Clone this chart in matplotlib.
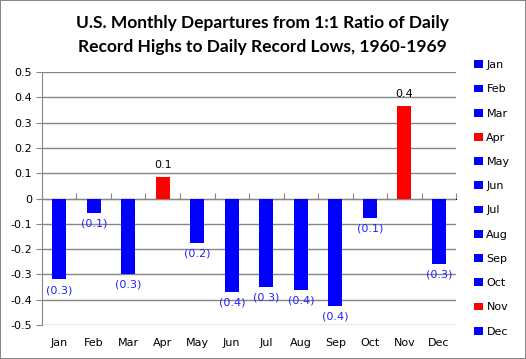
import matplotlib.pyplot as plt
import numpy as np

# data
months = ["Jan", "Feb", "Mar", "Apr", "May", "Jun",
          "Jul", "Aug", "Sep", "Oct", "Nov", "Dec"]
departures = [-0.32, -0.057, -0.30, 0.084, -0.175, -0.369,
              -0.349, -0.361, -0.424, -0.077, 0.365, -0.258]
bar_labels = ["(0.3)", "(0.1)", "(0.3)", "0.1", "(0.2)", "(0.4)",
              "(0.3)", "(0.4)", "(0.4)", "(0.1)", "0.4", "(0.3)"]
yticks = [0.5, 0.4, 0.3, 0.2, 0.1, 0, -0.1, -0.2, -0.3, -0.4, -0.5]
ytick_labels = ["0.5", "0.4", "0.3", "0.2", "0.1", "0",
                "-0.1", "-0.2", "-0.3", "-0.4", "-0.5"]

grid_col = "#868686"
colors = ["#FF0000" if v > 0 else "#0000FF" for v in departures]

fig = plt.figure(figsize=(5.26, 3.59), dpi=100, edgecolor=grid_col, linewidth=1.2)
ax = fig.add_axes([0.0798, 0.0947, 0.7872, 0.7047])

x = np.arange(len(months))
bars = ax.bar(x, departures, width=0.41, color=colors, zorder=3)

for i, v in enumerate(departures):
    if v > 0:
        ax.annotate(bar_labels[i], (x[i], v), xytext=(0, 5), textcoords="offset points",
                    ha="center", va="bottom", fontsize=8, color="black")
    else:
        ax.annotate(bar_labels[i], (x[i], v), xytext=(0, -4), textcoords="offset points",
                    ha="center", va="top", fontsize=8, color="#2222FF")

ax.set_xlim(-0.5, len(months) - 0.5)
ax.set_ylim(-0.5, 0.5)
ax.set_yticks(yticks)
ax.set_yticklabels(ytick_labels, fontsize=8)
ax.yaxis.grid(True, color=grid_col, linewidth=1.0, zorder=0)
ax.tick_params(axis="y", length=4, color=grid_col, pad=3)

ax.set_xticks(x)
ax.set_xticklabels(months, fontsize=8)
ax.tick_params(axis="x", length=0, pad=9)

for s in ["top", "right", "bottom"]:
    ax.spines[s].set_visible(False)
ax.spines["left"].set_color(grid_col)

# category axis sits on the zero line
sec = ax.secondary_xaxis(0.5)
sec.set_xticks(np.arange(-0.5, len(months), 1.0))
sec.set_xticklabels([])
sec.tick_params(length=4, color=grid_col, direction="out")
sec.spines["bottom"].set_color(grid_col)

fig.text(0.498, 0.937, "U.S. Monthly Departures from 1:1 Ratio of Daily",
         ha="center", va="center", fontsize=12.5, fontweight="bold", family="Lato")
fig.text(0.498, 0.870, "Record Highs to Daily Record Lows, 1960-1969",
         ha="center", va="center", fontsize=12.5, fontweight="bold", family="Lato")

fig.legend(bars.patches, months, loc="upper left", bbox_to_anchor=(0.893, 0.845),
           frameon=False, fontsize=8, handlelength=0.8, handleheight=0.7,
           handletextpad=0.3, labelspacing=1.28, borderaxespad=0)

plt.savefig("out.png", dpi=100)
